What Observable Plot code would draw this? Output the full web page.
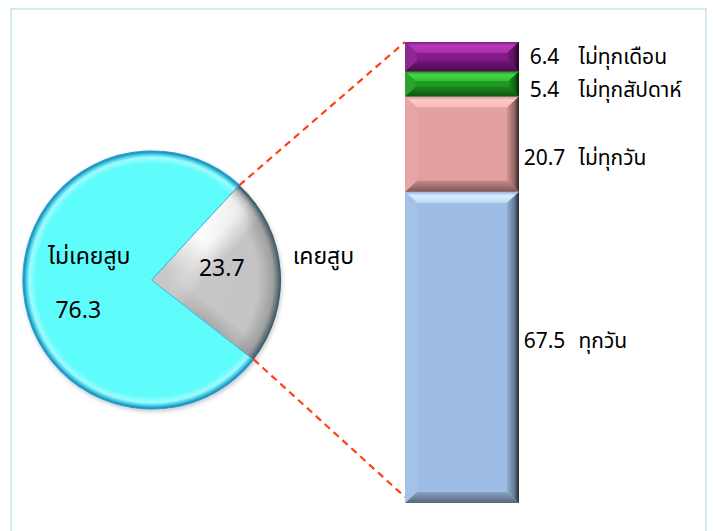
<!DOCTYPE html>
<html><head><meta charset="utf-8">
<script src="https://cdn.jsdelivr.net/npm/d3@7"></script>
<script src="https://cdn.jsdelivr.net/npm/@observablehq/plot@0.6"></script>
<style>
html,body{margin:0;padding:0;background:#fff;}
#chart{position:relative;width:713px;height:531px;overflow:hidden;}
#chart .border{position:absolute;left:10px;top:8px;width:697px;height:540px;border:2px solid #d3eaf2;box-sizing:border-box;pointer-events:none;}
#chart svg{display:block;}
</style></head><body><div id="chart"><div class="border"></div></div>
<script>
// ---- data ----
const pieLabels = ["ไม่เคยสูบ", "เคยสูบ"];
const pieValues = [76.3, 23.7];
const barLabels = ["ทุกวัน", "ไม่ทุกวัน", "ไม่ทุกสัปดาห์", "ไม่ทุกเดือน"];
const barValues = [67.5, 20.7, 5.4, 6.4];

// ---- styles / layout ----
const barColors = ["#9ebde4", "#e4a09f", "#1f9c1f", "#861a8a"];
const barHighlight = ["#d6ecff", "#ffc9c9", "#46d846", "#b63cbb"];
const pieColors = ["#5efcfc", "#c4c4c4"];
const W = 713, H = 531;
const BAR_TOP = 42, BAR_BOTTOM = 503;
const BAR_X0 = 405, BAR_X1 = 519;
const PIE = {cx: 152, cy: 280, r: 129, start: 128 * Math.PI / 180};
const NUM_X = 544, NAME_X = 578;
const labelNudgePx = [-7, 14, 6, 0];
const FONT = "Tahoma, 'Noto Sans Thai', 'Leelawadee UI', 'Liberation Sans', sans-serif";

const ends = d3.cumsum(barValues);
const pxToY = 100 / (BAR_BOTTOM - BAR_TOP);
const barData = barValues.map((value, i) => ({
  label: barLabels[i], value, color: barColors[i], hi: barHighlight[i],
  y1: ends[i] - value, y2: ends[i],
  ymid: ends[i] - value / 2 - labelNudgePx[i] * pxToY
}));

function mix(c, target, t) {
  return d3.interpolateRgb(c, target)(t);
}

// pie + connectors, drawn with d3 arcs positioned through Plot's scales
function pieMark(index, scales) {
  const g = d3.create("svg:g");
  const defs = g.append("defs");
  const sh = defs.append("filter").attr("id", "shadow").attr("x", "-20%").attr("y", "-20%").attr("width", "140%").attr("height", "140%");
  sh.append("feDropShadow").attr("dx", 1).attr("dy", 2).attr("stdDeviation", 2).attr("flood-color", "#000").attr("flood-opacity", 0.22);

  const rc = defs.append("radialGradient").attr("id", "gCyan").attr("gradientUnits", "userSpaceOnUse").attr("cx", 0).attr("cy", 0).attr("r", PIE.r);
  [[0, pieColors[0]], [0.9, pieColors[0]], [0.95, "#9ffcff"], [0.975, "#42cde4"], [1, "#1b72a0"]]
    .forEach(([o, c]) => rc.append("stop").attr("offset", o).attr("stop-color", c));
  const rg = defs.append("radialGradient").attr("id", "gGray").attr("gradientUnits", "userSpaceOnUse").attr("cx", 0).attr("cy", 0).attr("r", PIE.r);
  [[0, "#c8c8c8"], [0.82, pieColors[1]], [0.94, "#a0a0a0"], [0.98, "#5f6e76"], [1, "#2a5468"]]
    .forEach(([o, c]) => rg.append("stop").attr("offset", o).attr("stop-color", c));

  const arcs = d3.pie().sort(null).startAngle(PIE.start).endAngle(PIE.start + 2 * Math.PI)(pieValues);
  const cx = scales.x(PIE.cx), cy = PIE.cy;
  const arc = d3.arc().innerRadius(0).outerRadius(PIE.r);
  const pg = g.append("g").attr("transform", `translate(${cx},${cy})`);
  const shadowG = pg.append("g").attr("filter", "url(#shadow)");
  shadowG.append("path").attr("d", arc(arcs[0])).attr("fill", "url(#gCyan)").attr("stroke", "#22a2dc").attr("stroke-width", 1.2);
  shadowG.append("path").attr("d", arc(arcs[1])).attr("fill", "url(#gGray)");

  // highlight along the upper edge of the gray slice, shade along the lower edge
  const a0 = arcs[1].startAngle, a1 = arcs[1].endAngle;
  const hl = defs.append("linearGradient").attr("id", "gHl").attr("gradientUnits", "userSpaceOnUse")
    .attr("x1", 0).attr("y1", 0).attr("x2", 40 * Math.cos(a0)).attr("y2", 40 * Math.sin(a0));
  hl.append("stop").attr("offset", 0).attr("stop-color", "#fff").attr("stop-opacity", 1);
  hl.append("stop").attr("offset", 0.45).attr("stop-color", "#fff").attr("stop-opacity", 0.85);
  hl.append("stop").attr("offset", 1).attr("stop-color", "#fff").attr("stop-opacity", 0);
  const hm = defs.append("radialGradient").attr("id", "gHm").attr("gradientUnits", "userSpaceOnUse").attr("cx", 0).attr("cy", 0).attr("r", PIE.r);
  hm.append("stop").attr("offset", 0.12).attr("stop-color", "#fff").attr("stop-opacity", 0);
  hm.append("stop").attr("offset", 0.5).attr("stop-color", "#fff").attr("stop-opacity", 1);
  hm.append("stop").attr("offset", 0.88).attr("stop-color", "#fff").attr("stop-opacity", 0.8);
  hm.append("stop").attr("offset", 1).attr("stop-color", "#fff").attr("stop-opacity", 0);
  const mask = defs.append("mask").attr("id", "hlMask");
  mask.append("path").attr("d", arc(arcs[1])).attr("fill", "url(#gHm)");
  pg.append("path").attr("d", d3.arc().innerRadius(0).outerRadius(PIE.r - 3)(arcs[1])).attr("fill", "url(#gHl)").attr("mask", "url(#hlMask)");
  const lo = defs.append("linearGradient").attr("id", "gLo").attr("gradientUnits", "userSpaceOnUse")
    .attr("x1", 0).attr("y1", 0).attr("x2", -16 * Math.cos(a1)).attr("y2", -16 * Math.sin(a1));
  lo.append("stop").attr("offset", 0).attr("stop-color", "#666").attr("stop-opacity", 0.3);
  lo.append("stop").attr("offset", 1).attr("stop-color", "#666").attr("stop-opacity", 0);
  pg.append("path").attr("d", d3.arc().innerRadius(0).outerRadius(PIE.r - 3)(arcs[1])).attr("fill", "url(#gLo)").attr("mask", "url(#hlMask)");

  // connector lines from the gray slice edges to the bar
  const p0 = [cx + PIE.r * Math.sin(a0), cy - PIE.r * Math.cos(a0)];
  const p1 = [cx + PIE.r * Math.sin(a1), cy - PIE.r * Math.cos(a1)];
  const total = d3.sum(barValues);
  g.append("line").attr("x1", p0[0]).attr("y1", p0[1]).attr("x2", scales.x(BAR_X0)).attr("y2", scales.y(total))
    .attr("stroke", "#ff4212").attr("stroke-width", 2.2).attr("stroke-dasharray", "7,5");
  g.append("line").attr("x1", p1[0]).attr("y1", p1[1]).attr("x2", scales.x(BAR_X0)).attr("y2", scales.y(0) - 6)
    .attr("stroke", "#ff4212").attr("stroke-width", 2.2).attr("stroke-dasharray", "7,5");

  // pie labels anchored on slice centroids
  const tg = g.append("g").attr("font-family", FONT).attr("font-size", 23).attr("fill", "#000").attr("text-anchor", "middle");
  const c0 = d3.arc().innerRadius(0).outerRadius(2 * 72).centroid(arcs[0]);
  const c1 = d3.arc().innerRadius(0).outerRadius(2 * 70).centroid(arcs[1]);
  tg.append("text").attr("x", cx + c0[0] + 9).attr("y", cy + c0[1] - 30).attr("dy", "0.35em").text(pieLabels[0]);
  tg.append("text").attr("x", cx + c0[0] - 2).attr("y", cy + c0[1] + 24).attr("dy", "0.35em").text(pieValues[0].toFixed(1));
  tg.append("text").attr("x", cx + c1[0]).attr("y", cy + c1[1] - 6).attr("dy", "0.35em").text(pieValues[1].toFixed(1));
  const c2 = d3.arc().innerRadius(0).outerRadius(2 * 172).centroid(arcs[1]);
  tg.append("text").attr("x", cx + c2[0]).attr("y", cy + c2[1] - 10).attr("dy", "0.35em").text(pieLabels[1]);
  return g.node();
}

// bevel overlay for the stacked bar segments
function bevelMark(index, scales) {
  const g = d3.create("svg:g");
  const defs = g.append("defs");
  const x0 = scales.x(BAR_X0), x1 = scales.x(BAR_X1);
  barData.forEach((d, i) => {
    const yt = scales.y(d.y2), yb = scales.y(d.y1);
    const h = yb - yt;
    const b = Math.min(11, h / 2.6), s = Math.min(12, h / 2.4);
    const poly = (pts, fill) => g.append("polygon").attr("points", pts.map(p => p.join(",")).join(" ")).attr("fill", fill);
    const gt = defs.append("linearGradient").attr("id", "bt" + i).attr("x1", 0).attr("y1", 0).attr("x2", 0).attr("y2", 1);
    gt.append("stop").attr("offset", 0).attr("stop-color", mix(d.color, "#000", 0.05));
    gt.append("stop").attr("offset", 0.35).attr("stop-color", d.hi);
    gt.append("stop").attr("offset", 1).attr("stop-color", mix(d.hi, d.color, 0.4));
    poly([[x0, yt], [x1, yt], [x1 - s, yt + b], [x0 + s, yt + b]], `url(#bt${i})`);
    const gb = defs.append("linearGradient").attr("id", "bb" + i).attr("x1", 0).attr("y1", 0).attr("x2", 0).attr("y2", 1);
    gb.append("stop").attr("offset", 0).attr("stop-color", mix(d.color, "#000", 0.15));
    gb.append("stop").attr("offset", 1).attr("stop-color", mix(d.color, "#000", 0.45));
    poly([[x0, yb], [x1, yb], [x1 - s, yb - b], [x0 + s, yb - b]], `url(#bb${i})`);
    poly([[x0, yt], [x0 + s, yt + b], [x0 + s, yb - b], [x0, yb]], mix(d.color, "#fff", 0.06));
    const gr = defs.append("linearGradient").attr("id", "br" + i).attr("x1", 0).attr("y1", 0).attr("x2", 1).attr("y2", 0);
    gr.append("stop").attr("offset", 0).attr("stop-color", mix(d.color, "#000", 0.08));
    gr.append("stop").attr("offset", 0.6).attr("stop-color", mix(d.color, "#000", 0.35));
    gr.append("stop").attr("offset", 1).attr("stop-color", mix(d.color, "#000", 0.78));
    poly([[x1, yt], [x1 - s, yt + b], [x1 - s, yb - b], [x1, yb]], `url(#br${i})`);
  });
  return g.node();
}

const plot = Plot.plot({
  width: W, height: H,
  marginTop: BAR_TOP, marginBottom: H - BAR_BOTTOM, marginLeft: 0, marginRight: 0,
  x: {type: "linear", domain: [0, W], axis: null},
  y: {domain: [0, 100], axis: null},
  style: {fontFamily: FONT, background: "transparent", overflow: "visible"},
  marks: [
    pieMark,
    Plot.rectY(barData, Plot.stackY({
      x1: () => BAR_X0, x2: () => BAR_X1, y: "value", fill: "color",
      style: "filter: drop-shadow(-1px 2px 2px rgba(0,0,0,0.35))"
    })),
    bevelMark,
    Plot.text(barData, {x: () => NUM_X, y: "ymid", text: d => d.value.toFixed(1), fontSize: 21, fill: "#000", textAnchor: "middle"}),
    Plot.text(barData, {x: () => NAME_X, y: "ymid", text: "label", fontSize: 21, fill: "#000", textAnchor: "start"})
  ]
});
document.getElementById("chart").prepend(plot);
</script>
</body></html>
